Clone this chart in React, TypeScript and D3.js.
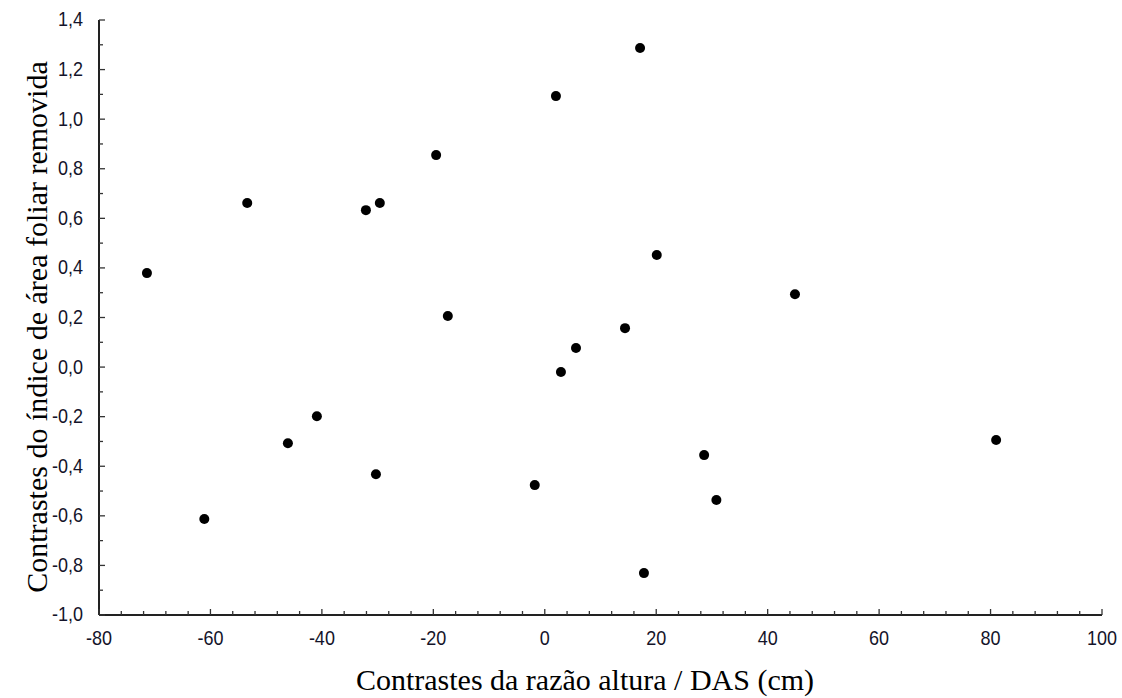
import React from "react";
import * as d3 from "d3";

const xValues = [-71.4, -61.1, -53.4, -46.1, -40.9, -32.1, -29.6, -30.3, -19.5, -17.4, -1.8, 2.0, 2.9, 5.6, 14.4, 17.1, 17.8, 20.1, 28.6, 30.8, 44.9, 81.0];
const yValues = [0.379, -0.613, 0.662, -0.307, -0.198, 0.633, 0.662, -0.432, 0.855, 0.206, -0.476, 1.093, -0.02, 0.077, 0.157, 1.287, -0.831, 0.452, -0.355, -0.536, 0.294, -0.294];
const xTicks = [-80, -60, -40, -20, 0, 20, 40, 60, 80, 100];
const yTicks = [-1.0, -0.8, -0.6, -0.4, -0.2, 0.0, 0.2, 0.4, 0.6, 0.8, 1.0, 1.2, 1.4];
const xTitle = "Contrastes da razão altura / DAS (cm)";
const yTitle = "Contrastes do índice de área foliar removida";

export default function App() {
  const W = 1122, H = 698;
  const left = 99, right = 1102, top = 20, bottom = 615;
  const x = d3.scaleLinear().domain([-80, 100]).range([left, right]);
  const y = d3.scaleLinear().domain([-1.0, 1.4]).range([bottom, top]);
  const xMinor = d3.range(-80, 100.001, 4);
  const yMinor = d3.range(-1.0, 1.4001, 0.1);
  const fmt = (v: number) => v.toFixed(1).replace(".", ",").replace("-0,0", "0,0");
  const tickFont = "'Liberation Sans', Arial, sans-serif";
  const titleFont = "'Liberation Serif', 'Times New Roman', serif";
  const ink = "#14142a";
  return (
    <svg width={W} height={H} style={{ position: "absolute", left: 0, top: 0, background: "#fff" }}>
      <rect x={0} y={0} width={W} height={H} fill="#fff" />
      <line x1={left} y1={top} x2={left} y2={bottom} stroke="#222" strokeWidth={2} />
      <line x1={left} y1={bottom} x2={right} y2={bottom} stroke="#222" strokeWidth={2} />
      {xMinor.map((v, i) => (
        <line key={"xm" + i} x1={x(v)} x2={x(v)} y1={bottom} y2={bottom - (Math.abs(v % 20) < 1e-6 ? 6 : 4)} stroke="#333" strokeWidth={1.3} />
      ))}
      {yMinor.map((v, i) => (
        <line key={"ym" + i} y1={y(v)} y2={y(v)} x1={left} x2={left + (i % 2 === 0 ? 6 : 4)} stroke="#333" strokeWidth={1.3} />
      ))}
      {xTicks.map((v) => (
        <text key={"xt" + v} x={x(v)} y={645} textAnchor="middle" fontFamily={tickFont} fontSize={20} fill={ink} transform={`translate(${x(v)},0) scale(0.9,1) translate(${-x(v)},0)`}>
          {v}
        </text>
      ))}
      {yTicks.map((v) => (
        <text key={"yt" + v} x={83} y={y(v) + 6.5} textAnchor="end" fontFamily={tickFont} fontSize={20} fill={ink} transform={`translate(83,0) scale(0.9,1) translate(-83,0)`}>
          {fmt(v)}
        </text>
      ))}
      {xValues.map((v, i) => (
        <circle key={"p" + i} cx={x(v)} cy={y(yValues[i])} r={5} fill="#000" />
      ))}
      <text x={585} y={690} textAnchor="middle" fontFamily={titleFont} fontSize={30} fill="#000">
        {xTitle}
      </text>
      <text transform={`translate(47,327) rotate(-90)`} textAnchor="middle" fontFamily={titleFont} fontSize={30} fill="#000">
        {yTitle}
      </text>
    </svg>
  );
}
